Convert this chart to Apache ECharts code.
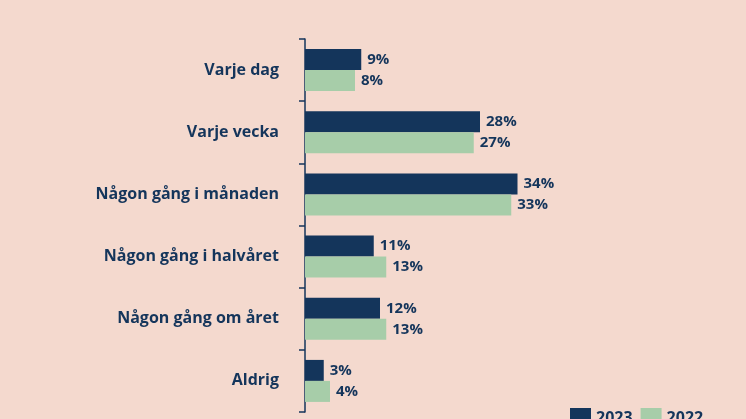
<!DOCTYPE html><html><head><meta charset="utf-8"><script src="https://cdn.jsdelivr.net/npm/echarts@6/dist/echarts.min.js"></script>
<style>html,body{margin:0;background:#f4d9ce}#c{width:746px;height:419px}</style></head><body><div id="c"></div><script>
const categories=["Varje dag","Varje vecka","Någon gång i månaden","Någon gång i halvåret","Någon gång om året","Aldrig"];
const v2023=[9,28,34,11,12,3];
const v2022=[8,27,33,13,13,4];
const seriesNames=["2023","2022"];
const navy="#14355b",green="#a7cda9";
const lab={show:true,position:"right",distance:6,color:navy,fontFamily:"Open Sans",fontWeight:"bold",fontSize:15,formatter:p=>p.value+"%"};
echarts.init(document.getElementById("c")).setOption({
backgroundColor:"#f4d9ce",animation:false,
legend:{left:565,top:403,orient:"vertical",itemWidth:21,itemHeight:21,icon:"rect",textStyle:{color:navy,fontFamily:"Open Sans",fontWeight:"bold",fontSize:16},data:seriesNames},
grid:{left:305,right:191,top:39,bottom:7},
xAxis:{type:"value",min:0,max:40,show:false},
yAxis:{type:"category",inverse:true,data:categories,axisLine:{lineStyle:{color:navy,width:1.5}},axisTick:{show:true,length:6,lineStyle:{color:navy,width:1.5}},axisLabel:{color:navy,fontFamily:"Open Sans",fontWeight:"bold",fontSize:16,margin:26}},
series:[{name:seriesNames[0],type:"bar",data:v2023,itemStyle:{color:navy},barWidth:21,barGap:"0%",label:lab},
{name:seriesNames[1],type:"bar",data:v2022,itemStyle:{color:green},barWidth:21,label:lab}]
});
</script></body></html>
